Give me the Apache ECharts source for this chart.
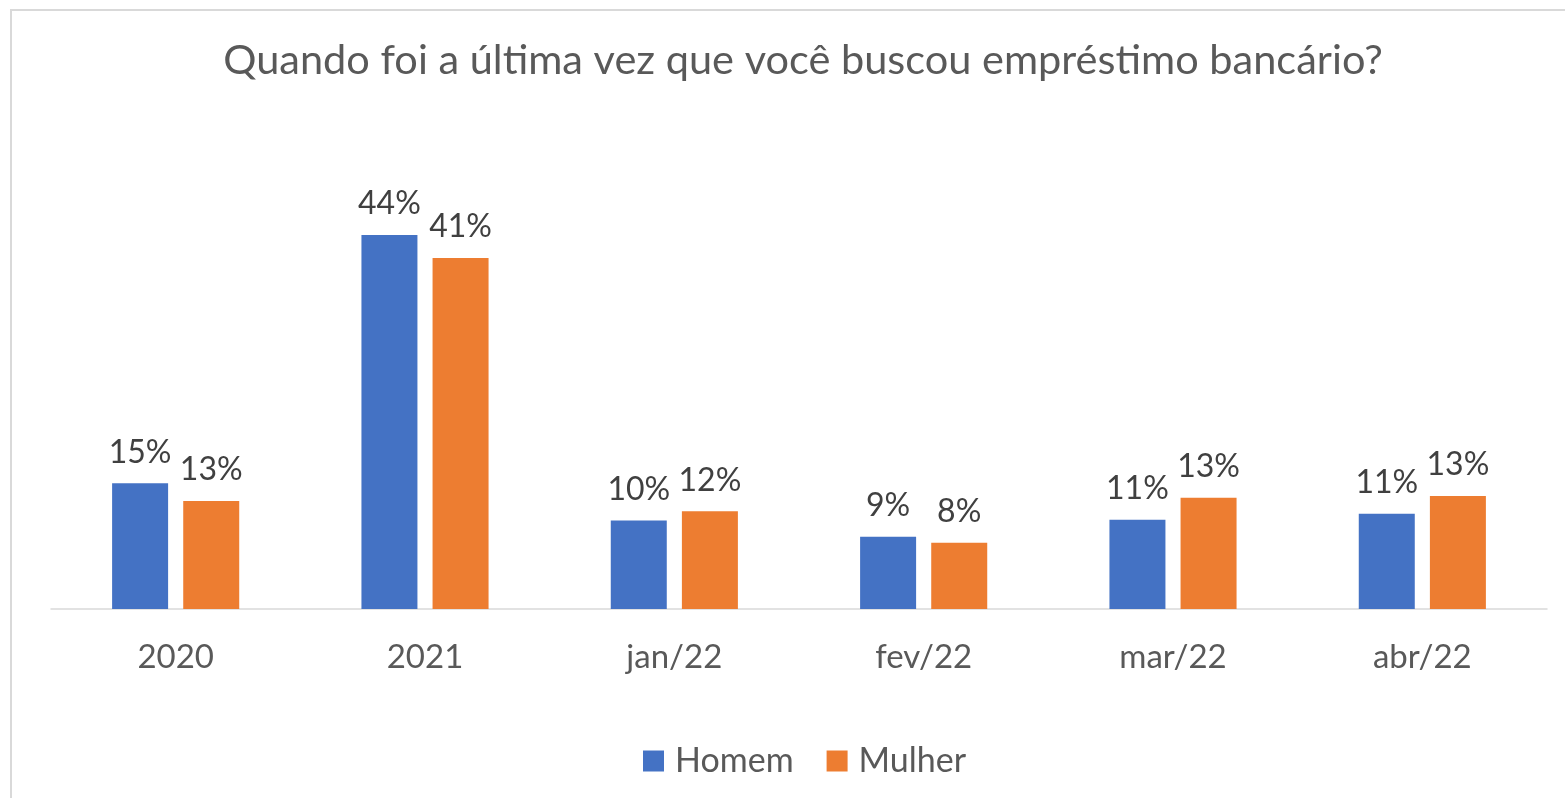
<!DOCTYPE html>
<html>
<head>
<meta charset="utf-8">
<script src="https://cdn.jsdelivr.net/npm/echarts@6/dist/echarts.min.js"></script>
<style>
  html, body { margin: 0; padding: 0; background: #fff; }
  #chart { width: 1565px; height: 798px; }
</style>
</head>
<body>
<div id="chart"></div>
<script>
// dados
var CATEGORIAS = ['2020', '2021', 'jan/22', 'fev/22', 'mar/22', 'abr/22'];
var HOMEM = [14.8, 44.0, 10.4, 8.5, 10.5, 11.2];
var MULHER = [12.7, 41.3, 11.5, 7.8, 13.1, 13.3];

var FONTE = 'Lato, "Open Sans", sans-serif';

function rotulo(p) {
    return Math.round(p.value) + '%';
}

var option = {
    animation: false,
    backgroundColor: '#fff',
    color: ['#4472C4', '#ED7D31'],
    title: {
        text: 'Quando foi a última vez que você buscou empréstimo bancário?',
        left: 798,
        textAlign: 'center',
        top: 35,
        textStyle: {
            fontFamily: FONTE,
            fontSize: 41.5,
            fontWeight: 'normal',
            color: '#595959'
        }
    },
    graphic: [{
        type: 'rect',
        shape: { x: 11, y: 10, width: 1620, height: 900 },
        style: { fill: 'none', stroke: '#d9d9d9', lineWidth: 2 },
        silent: true
    }],
    legend: {
        data: ['Homem', 'Mulher'],
        left: 638,
        top: 739,
        itemWidth: 21,
        itemHeight: 21,
        itemGap: 33,
        icon: 'rect',
        textStyle: {
            fontFamily: FONTE,
            fontSize: 34,
            color: '#595959',
            padding: [0, 0, 0, 6]
        }
    },
    grid: {
        left: 51,
        right: 18,
        top: 184,
        bottom: 189
    },
    xAxis: {
        type: 'category',
        data: CATEGORIAS,
        axisLine: { show: true, lineStyle: { color: '#d9d9d9', width: 1.5 } },
        axisTick: { show: false },
        axisLabel: {
            margin: 32,
            fontFamily: FONTE,
            fontSize: 33,
            color: '#595959'
        }
    },
    yAxis: {
        type: 'value',
        min: 0,
        max: 50,
        show: false,
        splitLine: { show: false }
    },
    series: [
        {
            name: 'Homem',
            type: 'bar',
            data: HOMEM,
            barWidth: 56,
            barGap: '27%',
            label: {
                show: true,
                position: 'top',
                distance: 15,
                formatter: rotulo,
                fontFamily: FONTE,
                fontSize: 32,
                color: '#404040'
            }
        },
        {
            name: 'Mulher',
            type: 'bar',
            data: MULHER,
            barWidth: 56,
            barGap: '27%',
            label: {
                show: true,
                position: 'top',
                distance: 15,
                formatter: rotulo,
                fontFamily: FONTE,
                fontSize: 32,
                color: '#404040'
            }
        }
    ]
};

var myChart = echarts.init(document.getElementById('chart'));
myChart.setOption(option);
</script>
</body>
</html>
